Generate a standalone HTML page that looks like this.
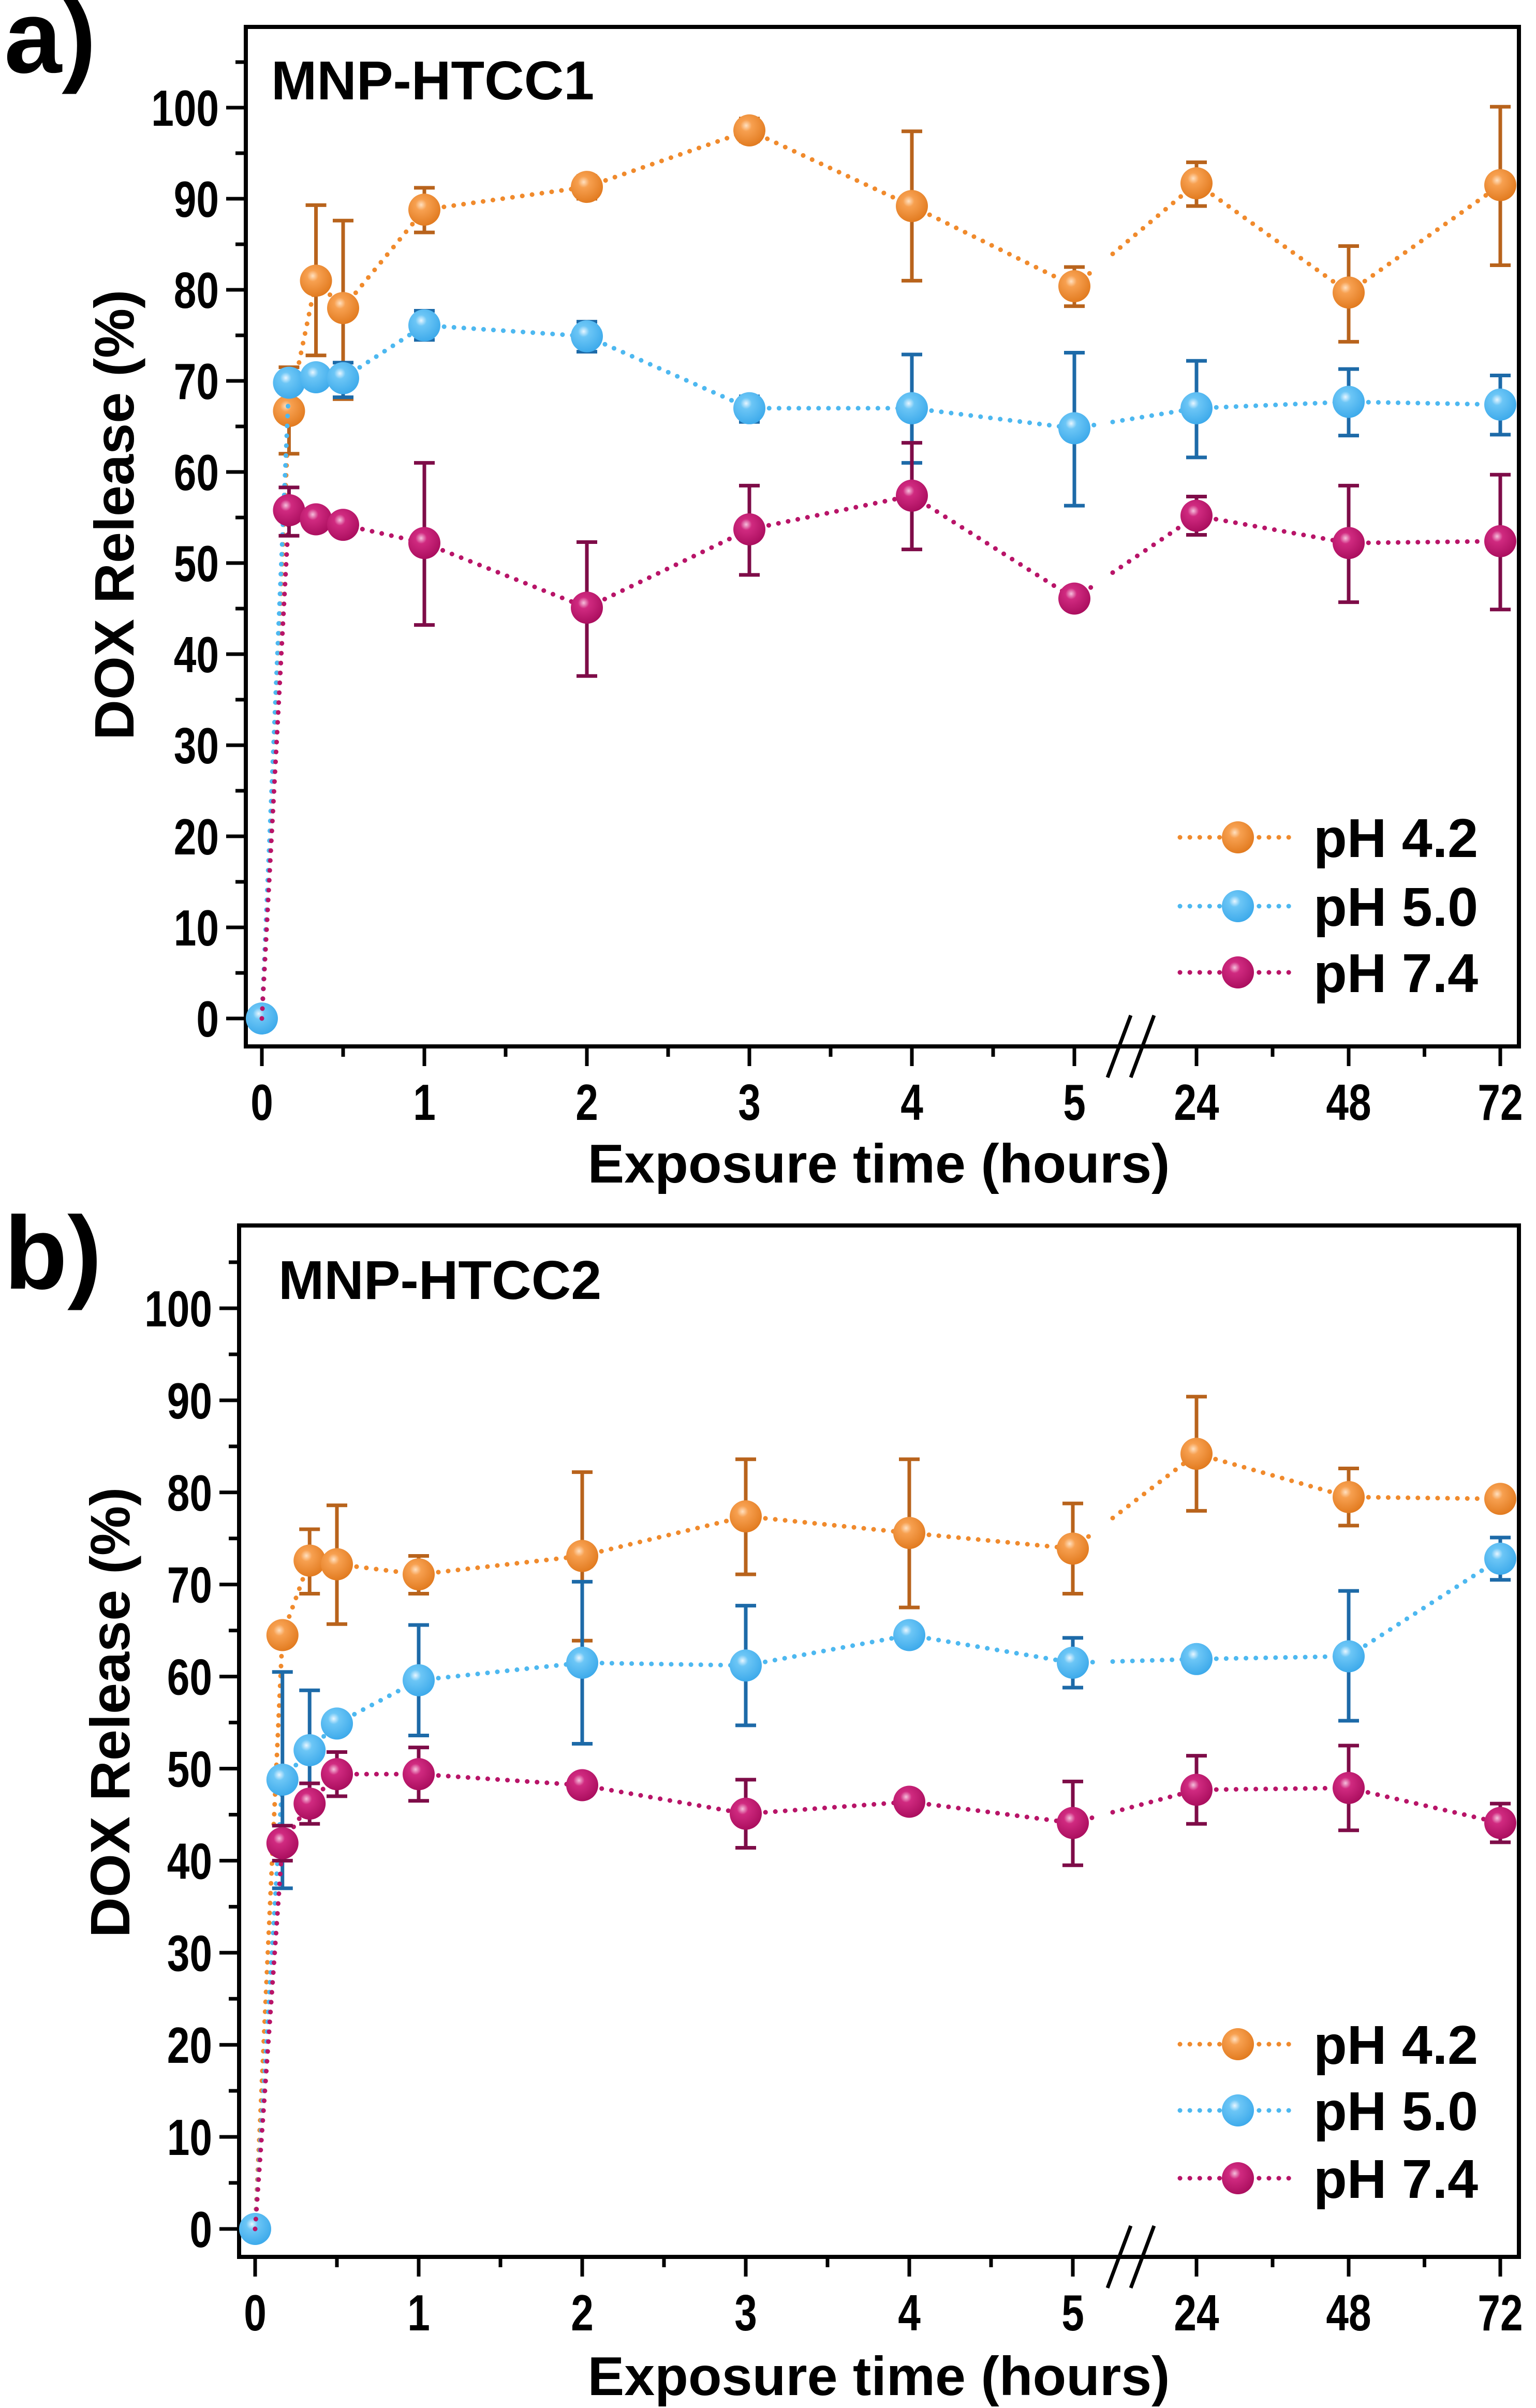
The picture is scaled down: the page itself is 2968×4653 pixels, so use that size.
<!DOCTYPE html>
<html><head><meta charset="utf-8"><style>
html,body{margin:0;padding:0;background:#fff;}
svg{display:block;}
text{font-family:"Liberation Sans",sans-serif;font-weight:bold;fill:#000;}
</style></head><body>
<svg id="chart" width="2968" height="4653" viewBox="0 0 2968 4653" xmlns="http://www.w3.org/2000/svg">
<defs>
<radialGradient id="gO" cx="0.4" cy="0.35" r="0.7"><stop offset="0" stop-color="#ffe0c0"/><stop offset="0.25" stop-color="#f7a050"/><stop offset="1" stop-color="#e0781c"/></radialGradient>
<radialGradient id="gB" cx="0.4" cy="0.35" r="0.7"><stop offset="0" stop-color="#e8f6ff"/><stop offset="0.25" stop-color="#6cc6f6"/><stop offset="1" stop-color="#3aa8ea"/></radialGradient>
<radialGradient id="gM" cx="0.4" cy="0.35" r="0.7"><stop offset="0" stop-color="#f5c0dc"/><stop offset="0.25" stop-color="#d02a80"/><stop offset="1" stop-color="#a80c5c"/></radialGradient>
</defs>
</svg>
<script>
// shared categories (hours)
const xHours = [0, 0.167, 0.333, 0.5, 1, 2, 3, 4, 5, 24, 48, 72];
const xTickLabels = ["0","1","2","3","4","5","24","48","72"];
const yTickLabels = [0,10,20,30,40,50,60,70,80,90,100];
const seriesNames = ["pH 4.2","pH 5.0","pH 7.4"];
// panel a
const a42 = [0, 66.7, 81.0, 78.0, 88.8, 91.3, 97.5, 89.2, 80.4, 91.7, 79.7, 91.5];
const a42lo = [0, 62.0, 72.8, 68.0, 86.3, 90.0, 96.3, 81.0, 78.2, 89.2, 74.3, 82.7];
const a42hi = [0, 71.5, 89.3, 87.6, 91.2, 92.5, 98.8, 97.4, 82.5, 94.0, 84.8, 100.1];
const a50 = [0, 69.8, 70.4, 70.3, 76.1, 74.9, 67.0, 67.0, 64.8, 67.0, 67.7, 67.4];
const a50lo = [0, 69.3, 69.9, 68.2, 74.5, 73.2, 65.5, 61.0, 56.3, 61.6, 64.0, 64.1];
const a50hi = [0, 70.3, 70.9, 72.0, 77.7, 76.5, 68.3, 72.9, 73.1, 72.2, 71.3, 70.6];
const a74 = [0, 55.8, 54.8, 54.2, 52.2, 45.1, 53.7, 57.4, 46.1, 55.2, 52.2, 52.4];
const a74lo = [0, 53.0, 54.0, 53.8, 43.2, 37.6, 48.7, 51.5, 45.0, 53.1, 45.7, 44.9];
const a74hi = [0, 58.3, 55.6, 54.6, 61.0, 52.3, 58.5, 63.2, 47.0, 57.3, 58.5, 59.7];
// panel b
const b42 = [0, 64.5, 72.6, 72.2, 71.1, 73.1, 77.4, 75.6, 73.9, 84.2, 79.5, 79.3];
const b42lo = [0, 63.5, 69.0, 65.7, 69.0, 63.9, 71.1, 67.5, 69.0, 78.0, 76.4, 78.6];
const b42hi = [0, 65.5, 76.0, 78.6, 73.1, 82.2, 83.6, 83.6, 78.8, 90.4, 82.6, 80.0];
const b50 = [0, 48.8, 52.0, 54.9, 59.6, 61.5, 61.2, 64.5, 61.5, 61.9, 62.2, 72.8];
const b50lo = [0, 37.0, 45.5, 53.9, 53.6, 52.7, 54.7, 64.0, 58.8, 61.7, 55.2, 70.5];
const b50hi = [0, 60.5, 58.5, 55.9, 65.6, 70.3, 67.7, 65.0, 64.2, 62.1, 69.3, 75.1];
const b74 = [0, 41.9, 46.2, 49.4, 49.4, 48.2, 45.1, 46.4, 44.1, 47.7, 47.9, 44.1];
const b74lo = [0, 40.0, 44.0, 47.0, 46.5, 47.8, 41.4, 46.0, 39.5, 44.0, 43.3, 42.0];
const b74hi = [0, 43.8, 48.4, 51.8, 52.3, 48.6, 48.8, 46.8, 48.6, 51.4, 52.5, 46.2];

const NS = "http://www.w3.org/2000/svg";
const svg = document.getElementById("chart");
function mk(tag, attrs, parent){
  const e = document.createElementNS(NS, tag);
  for (const k in attrs) e.setAttribute(k, attrs[k]);
  (parent||svg).appendChild(e);
  return e;
}
const colors = [
  {line:"#f08a2c", err:"#b8631c", grad:"url(#gO)"},
  {line:"#4db8f0", err:"#1d6aa8", grad:"url(#gB)"},
  {line:"#b81468", err:"#7e0c48", grad:"url(#gM)"}
];
const DOT = {"stroke-width":9,"stroke-dasharray":"0.1 19","stroke-linecap":"round"};
function dotted(attrs, c){ return Object.assign({stroke:c.line}, DOT, attrs); }

function panel(cfg){
  const g = mk("g", {});
  
  
  const L=cfg.left, R=2935, T=cfg.top, B=cfg.bottom;
  const x0=cfg.x0, hs=cfg.hs;
  const catX = {24:2312, 48:2606, 72:2899};
  const xs = h => (h<=5 ? x0 + h*hs : catX[h]);
  const ys = v => cfg.y0 - v*cfg.py;
  const fr = mk("rect", {x:L, y:T, width:R-L, height:B-T, fill:"none", stroke:"#000", "stroke-width":8}, g);
  
  
  for (let v=0; v<=105; v+=5){
    const major = v%10===0;
    const t = mk("line", {x1:L-(major?38:20), x2:L, y1:ys(v), y2:ys(v), stroke:"#000", "stroke-width":7}, g);
    
    
  }
  yTickLabels.forEach(v=>{
    const t = mk("text", {x:0, y:0, "text-anchor":"end", "font-size":98, transform:`translate(${L-52},${ys(v)+35}) scale(0.8,1)`}, g);
    t.textContent = v;
    
    
  });
  const majorH = [0,1,2,3,4,5,24,48,72];
  majorH.forEach((h,i)=>{
    const t = mk("line", {x1:xs(h), x2:xs(h), y1:B, y2:B+38, stroke:"#000", "stroke-width":7}, g);
    
    
    const lb = mk("text", {x:0, y:0, "text-anchor":"middle", "font-size":98, transform:`translate(${xs(h)},${B+142}) scale(0.8,1)`}, g);
    lb.textContent = xTickLabels[i];
    
    
  });
  [0.5,1.5,2.5,3.5,4.5].forEach(h=>{
    const t = mk("line", {x1:xs(h), x2:xs(h), y1:B, y2:B+20, stroke:"#000", "stroke-width":7}, g);
    
    
  });
  [(2312+2606)/2,(2606+2899)/2].forEach(x=>{
    const t = mk("line", {x1:x, x2:x, y1:B, y2:B+20, stroke:"#000", "stroke-width":7}, g);
    
    
  });
  const bx = 2190;
  const br = mk("path", {d:`M${bx-50} ${B+60} L${bx-5} ${B-60} M${bx-5} ${B+60} L${bx+40} ${B-60}`, stroke:"#000", "stroke-width":7, fill:"none"}, g);
  
  
  const yt = mk("text", {x:0, y:0, "text-anchor":"middle", "font-size":108, transform:`translate(${cfg.ytX},${cfg.ytY}) rotate(-90)`}, g);
  yt.textContent = "DOX Release (%)";
  
  
  const xt = mk("text", {x:1698, y:cfg.xtY, "text-anchor":"middle", "font-size":106}, g);
  xt.textContent = "Exposure time (hours)";
  
  
  const pl = mk("text", {x:8, y:cfg.plY, "font-size":200}, g);
  pl.textContent = cfg.letter;
  
  
  const st = mk("text", {x:cfg.stX, y:cfg.stY, "font-size":106}, g);
  st.textContent = cfg.sample;
  
  
  cfg.series.forEach((s,si)=>{
    const c = colors[si];
    const sg = mk("g", {}, g);
    
    
    for (let i=0;i<xHours.length-1;i++){
      let xa=xs(xHours[i]), ya=ys(s.v[i]), xb=xs(xHours[i+1]), yb=ys(s.v[i+1]);
      if (xHours[i]===5){
        const f1=(2118-xa)/(xb-xa), f2=(2150-xa)/(xb-xa);
        const l1 = mk("line", dotted({x1:xa,y1:ya,x2:xa+(xb-xa)*f1,y2:ya+(yb-ya)*f1}, c), sg);
        
        
        const l2 = mk("line", dotted({x1:xa+(xb-xa)*f2,y1:ya+(yb-ya)*f2,x2:xb,y2:yb}, c), sg);
        
        
      } else {
        const l = mk("line", dotted({x1:xa,y1:ya,x2:xb,y2:yb}, c), sg);
        
        
      }
    }
    xHours.forEach((h,i)=>{
      if (i===0 && si!==1) return;
      const x=xs(h);
      if (i>0){
        const eb = mk("path", {d:`M${x} ${ys(s.lo[i])} L${x} ${ys(s.hi[i])} M${x-20} ${ys(s.lo[i])} L${x+20} ${ys(s.lo[i])} M${x-20} ${ys(s.hi[i])} L${x+20} ${ys(s.hi[i])}`, stroke:c.err, "stroke-width":7, fill:"none"}, sg);
        
        
      }
      const m = mk("circle", {cx:x, cy:ys(s.v[i]), r:31, fill:c.grad}, sg);
      
      
    });
  });
  cfg.legY.forEach((ly,si)=>{
    const c = colors[si];
    const lg = mk("g", {}, g);
    
    
    mk("line", dotted({x1:2280,y1:ly,x2:2508,y2:ly}, c), lg);
    mk("circle", {cx:2392, cy:ly, r:31, fill:c.grad}, lg);
    const t = mk("text", {x:2538, y:ly+38, "font-size":106}, lg);
    t.textContent = seriesNames[si];
  });
}

panel({name:"panel-a", letter:"a)", sample:"MNP-HTCC1", left:475, top:52, bottom:2022, x0:506, hs:314, y0:1968, py:17.6,
  ytX:258, ytY:995, xtY:2285, plY:140, stX:524, stY:192, legY:[1618,1751,1879],
  series:[{v:a42,lo:a42lo,hi:a42hi},{v:a50,lo:a50lo,hi:a50hi},{v:a74,lo:a74lo,hi:a74hi}]});
panel({name:"panel-b", letter:"b)", sample:"MNP-HTCC2", left:462, top:2368, bottom:4361, x0:493, hs:316, y0:4307, py:17.79,
  ytX:250, ytY:3309, xtY:4628, plY:2490, stX:538, stY:2510, legY:[3950,4078,4209],
  series:[{v:b42,lo:b42lo,hi:b42hi},{v:b50,lo:b50lo,hi:b50hi},{v:b74,lo:b74lo,hi:b74hi}]});
</script>
</body></html>
